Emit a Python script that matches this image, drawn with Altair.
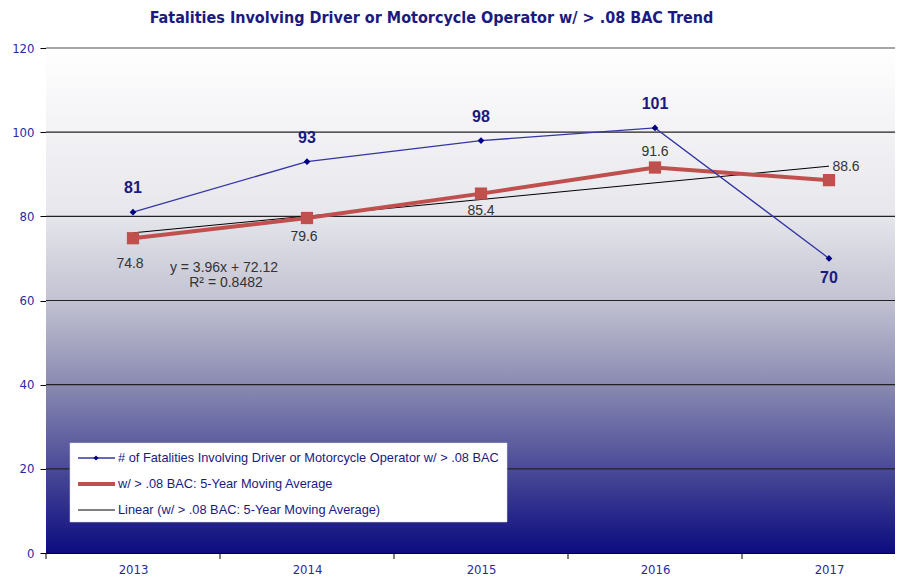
import altair as alt
import pandas as pd

years = [2013, 2014, 2015, 2016, 2017]
fatalities = [81, 93, 98, 101, 70]
moving_avg = [74.8, 79.6, 85.4, 91.6, 88.6]
trend = [76.08, 80.04, 84.00, 87.96, 91.92]
y_ticks = [0, 20, 40, 60, 80, 100, 120]
x_boundaries = [2012.5, 2013.5, 2014.5, 2015.5, 2016.5]

title = "Fatalities Involving Driver or Motorcycle Operator w/ > .08 BAC Trend"
legend_labels = [
    "# of Fatalities Involving Driver or Motorcycle Operator w/ > .08 BAC",
    "w/ > .08 BAC: 5-Year Moving Average",
    "Linear (w/ > .08 BAC: 5-Year Moving Average)",
]
equation = ["y = 3.96x + 72.12", "R² = 0.8482"]

df = pd.DataFrame({"year": years, "fat": fatalities, "avg": moving_avg, "trend": trend})
grid_df = pd.DataFrame({"v": y_ticks[1:]})
tick_df = pd.DataFrame({"b": x_boundaries})

NARROW = "'Liberation Sans Narrow', 'DejaVu Sans Condensed', 'Arial Narrow', sans-serif"
SANS = "'Liberation Sans', Arial, sans-serif"
NAVY = "#1a1a80"
LABEL_BLUE = "#2a2aa0"
BLUE_LINE = "#3535a5"
RED = "#c0504d"

W, H = 849, 505
BAND = 174.0

xscale = alt.Scale(domain=[2012.5, 2012.5 + W / BAND], nice=False, zero=False)
xaxis = alt.Axis(title=None, values=years, format="d", labelColor=LABEL_BLUE,
                 labelFont=NARROW, labelFontSize=13, labelPadding=10, ticks=False,
                 domainColor="black", grid=False)
x = alt.X("year:Q", scale=xscale, axis=xaxis)
yscale = alt.Scale(domain=[0, 120], nice=False)
yaxis = alt.Axis(title=None, values=y_ticks, labelColor=LABEL_BLUE,
                 labelFont=NARROW, labelFontSize=13, labelPadding=6,
                 domainColor="black", tickColor="black", tickSize=6, grid=False)

gradient = alt.Gradient(gradient="linear", x1=0, x2=0, y1=0, y2=1, stops=[
    alt.GradientStop(offset=0, color="#ffffff"),
    alt.GradientStop(offset=0.33, color="#e6e6ec"),
    alt.GradientStop(offset=0.5, color="#c2c2d2"),
    alt.GradientStop(offset=0.667, color="#8a8ab2"),
    alt.GradientStop(offset=0.833, color="#4a4a98"),
    alt.GradientStop(offset=1, color="#0c0c80"),
])

first = alt.datum.year == 2013
bg = alt.Chart(df).transform_filter(first).mark_rect(fill=gradient).encode(
    x=alt.value(0), x2=alt.value(W), y=alt.value(0), y2=alt.value(H))

grid = alt.Chart(grid_df).transform_filter(alt.datum.v < 120).mark_rule(
    color="#222222", strokeWidth=1.2).encode(
    y=alt.Y("v:Q", scale=yscale, axis=yaxis), x=alt.value(0), x2=alt.value(W))
grid_top = alt.Chart(grid_df).transform_filter(alt.datum.v == 120).mark_rule(
    color="#888888", strokeWidth=1.5).encode(
    y=alt.Y("v:Q", scale=yscale), x=alt.value(0), x2=alt.value(W))

xticks = alt.Chart(tick_df).mark_rule(color="black", strokeWidth=1).encode(
    x=alt.X("b:Q", scale=xscale, axis=xaxis), y=alt.value(H), y2=alt.value(H + 6))

base = alt.Chart(df)

trend_line = base.mark_line(color="black", strokeWidth=1).encode(
    x=x, y=alt.Y("trend:Q", scale=yscale, axis=yaxis))

avg_line = base.mark_line(color=RED, strokeWidth=4).encode(x=x, y=alt.Y("avg:Q", scale=yscale))
avg_pts = base.mark_point(shape="square", size=150, filled=True, opacity=1, color=RED).encode(
    x=x, y=alt.Y("avg:Q", scale=yscale))

fat_line = base.mark_line(color=BLUE_LINE, strokeWidth=1.3).encode(x=x, y=alt.Y("fat:Q", scale=yscale))
fat_pts = base.mark_point(shape="diamond", size=45, filled=True, opacity=1, color="#000080").encode(
    x=x, y=alt.Y("fat:Q", scale=yscale))

def fat_label(cond, dy):
    return base.transform_filter(cond).mark_text(
        font=SANS, fontSize=16, fontWeight="bold", color=NAVY, dy=dy).encode(
        x=x, y=alt.Y("fat:Q", scale=yscale), text="fat:Q")

fat_lab_up = fat_label(alt.datum.year != 2017, -24)
fat_lab_down = fat_label(alt.datum.year == 2017, 20)

lab_style = dict(font=SANS, fontSize=14, color="#333333")

def avg_label(yr, dx, dy):
    return base.transform_filter(alt.datum.year == yr).mark_text(dx=dx, dy=dy, **lab_style).encode(
        x=x, y=alt.Y("avg:Q", scale=yscale), text=alt.Text("avg:Q", format=".1f"))

avg_labels = [
    avg_label(2013, -3, 26),
    avg_label(2014, -3, 19),
    avg_label(2015, 0, 17),
    avg_label(2016, 0, -16),
    avg_label(2017, 17, -13),
]

eq_df = pd.DataFrame({"t": equation, "i": [0, 1]})
eq1 = alt.Chart(eq_df).transform_filter(alt.datum.i == 0).mark_text(**lab_style).encode(
    x=alt.value(178), y=alt.value(220), text="t:N")
eq2 = alt.Chart(eq_df).transform_filter(alt.datum.i == 1).mark_text(**lab_style).encode(
    x=alt.value(180), y=alt.value(235), text="t:N")

# legend box
leg_box = alt.Chart(df).transform_filter(first).mark_rect(
    fill="white", stroke="#dddddd", strokeWidth=0.5).encode(
    x=alt.value(24), x2=alt.value(461), y=alt.value(395), y2=alt.value(474))
leg_l1 = alt.Chart(df).transform_filter(first).mark_rule(color=BLUE_LINE, strokeWidth=1.3).encode(
    x=alt.value(32), x2=alt.value(69), y=alt.value(410))
leg_p1 = alt.Chart(df).transform_filter(first).mark_point(
    shape="diamond", size=25, filled=True, opacity=1, color="#000080").encode(x=alt.value(50), y=alt.value(410))
leg_l2 = alt.Chart(df).transform_filter(first).mark_rule(color=RED, strokeWidth=4).encode(
    x=alt.value(32), x2=alt.value(69), y=alt.value(436))
leg_l3 = alt.Chart(df).transform_filter(first).mark_rule(color="black", strokeWidth=1).encode(
    x=alt.value(32), x2=alt.value(69), y=alt.value(462))
leg_df = pd.DataFrame({"t": legend_labels, "i": [0, 1, 2]})
leg_texts = []
for i, yy in enumerate([410, 436, 462]):
    leg_texts.append(alt.Chart(leg_df).transform_filter(alt.datum.i == i).mark_text(
        font=SANS, fontSize=12.8, color=NAVY, align="left", baseline="middle").encode(
        x=alt.value(72), y=alt.value(yy), text="t:N"))

chart = alt.layer(
    bg, grid, grid_top, xticks, trend_line, avg_line, avg_pts, fat_line, fat_pts,
    fat_lab_up, fat_lab_down, *avg_labels, eq1, eq2,
    leg_box, leg_l1, leg_p1, leg_l2, leg_l3, *leg_texts,
).properties(
    width=W, height=H,
    title=alt.Title(title, font=NARROW, fontSize=16, fontWeight="bold", color=NAVY,
                    anchor="middle", dx=-39, offset=16),
    autosize=alt.AutoSizeParams(type="none"),
    padding={"left": 38, "top": 40, "right": 0, "bottom": 26},
).configure_view(stroke=None).configure(background="white")

chart.save("out.html", embed_options={"renderer": "svg", "actions": False})
